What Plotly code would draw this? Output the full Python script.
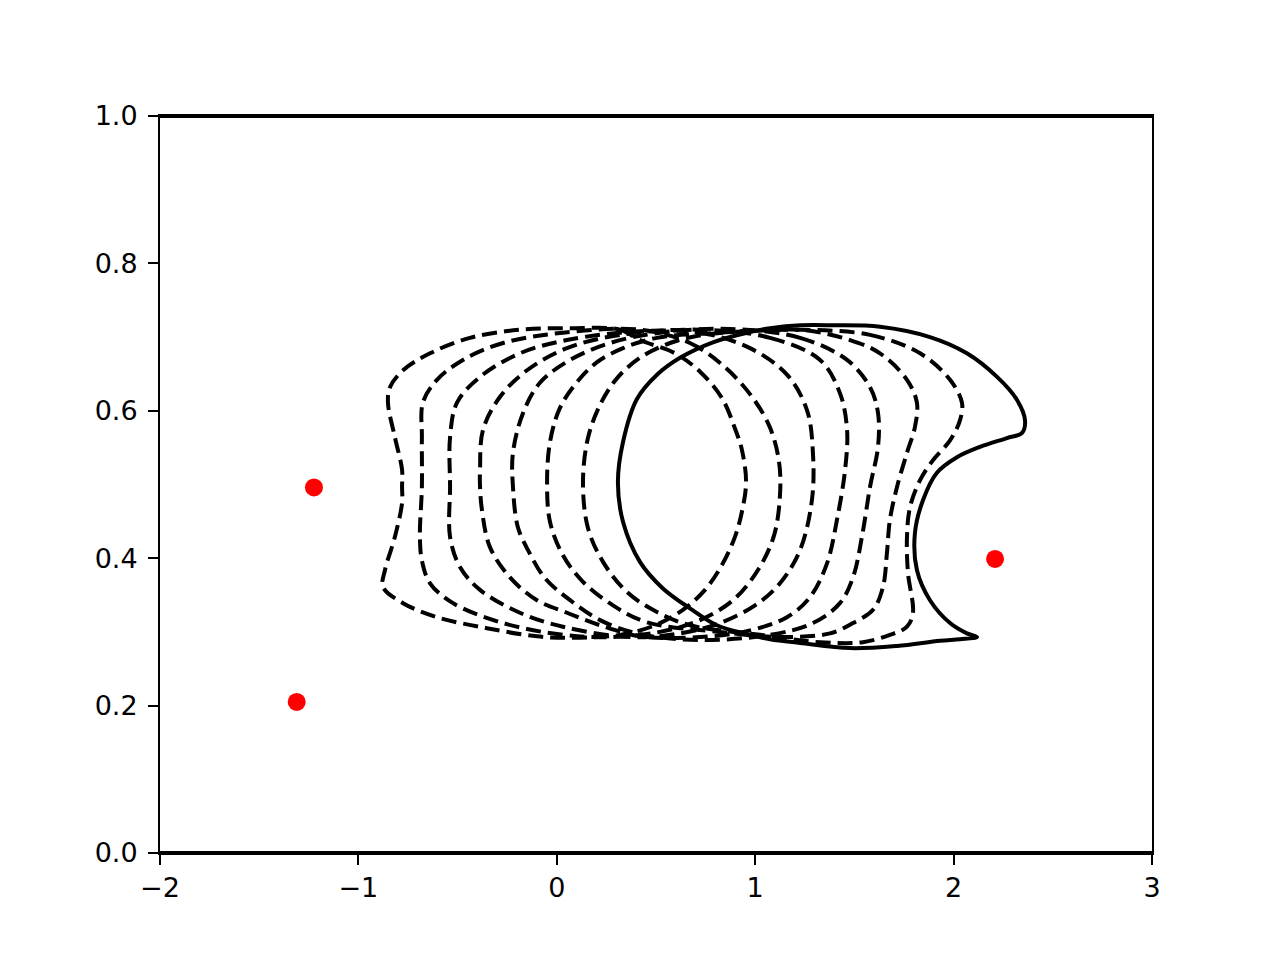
import plotly.graph_objects as go

# point sources (red dots)
src_x = [-1.224, -1.311, 2.209]
src_y = [0.496, 0.205, 0.399]

# channel walls
wall_x = [-2, 3]
wall_bottom = [0, 0]
wall_top = [1, 1]

# dashed contours, earliest to latest
ax = [-0.780, -0.780, -0.816, -0.851, -0.841, -0.775, -0.639, -0.438, -0.186, 0.067, 0.319, 0.419, 0.596, 0.722,
      0.833, 0.898, 0.933, 0.954, 0.933, 0.898, 0.833, 0.747, 0.636, 0.495, 0.319, 0.067, -0.100, -0.352,
      -0.604, -0.775, -0.876, -0.866, -0.816, -0.780, -0.780]
ay = [0.497, 0.520, 0.564, 0.611, 0.632, 0.655, 0.678, 0.699, 0.710, 0.712, 0.710, 0.696, 0.678, 0.653,
      0.617, 0.576, 0.547, 0.503, 0.463, 0.429, 0.391, 0.357, 0.330, 0.309, 0.296, 0.292, 0.294, 0.305,
      0.320, 0.339, 0.361, 0.384, 0.429, 0.475, 0.497]

bx = [-0.680, -0.680, -0.675, -0.604, -0.473, -0.271, 0.031, 0.419, 0.671, 0.848, 0.984, 1.075, 1.120, 1.125,
      1.095, 1.014, 0.888, 0.722, 0.520, 0.268, 0.031, -0.271, -0.523, -0.639, -0.680, -0.690, -0.680]
by = [0.497, 0.564, 0.611, 0.642, 0.669, 0.692, 0.706, 0.710, 0.692, 0.659, 0.619, 0.577, 0.531, 0.486,
      0.431, 0.384, 0.343, 0.316, 0.300, 0.293, 0.296, 0.312, 0.339, 0.366, 0.397, 0.429, 0.497]

cx = [-0.538, -0.538, -0.503, -0.387, -0.186, 0.051, 0.419, 0.722, 0.974, 1.160, 1.261, 1.291, 1.286, 1.226,
      1.125, 0.999, 0.822, 0.621, 0.369, 0.031, -0.186, -0.387, -0.488, -0.538, -0.538]
cy = [0.497, 0.564, 0.611, 0.646, 0.678, 0.696, 0.708, 0.706, 0.685, 0.649, 0.601, 0.543, 0.479, 0.411,
      0.366, 0.336, 0.312, 0.298, 0.293, 0.307, 0.326, 0.357, 0.388, 0.429, 0.497]

dx = [-0.387, -0.387, -0.372, -0.286, -0.150, 0.051, 0.319, 0.722, 1.075, 1.327, 1.427, 1.463, 1.453, 1.412,
      1.362, 1.276, 1.160, 0.974, 0.722, 0.419, 0.218, 0.051, -0.100, -0.236, -0.337, -0.377, -0.387]
dy = [0.497, 0.520, 0.574, 0.619, 0.655, 0.685, 0.703, 0.710, 0.699, 0.669, 0.624, 0.574, 0.520, 0.452,
      0.393, 0.347, 0.320, 0.302, 0.293, 0.294, 0.309, 0.326, 0.343, 0.374, 0.415, 0.465, 0.497]

ex = [-0.221, -0.221, -0.170, -0.085, 0.067, 0.268, 0.520, 0.873, 1.226, 1.463, 1.579, 1.619, 1.619, 1.579,
      1.538, 1.493, 1.427, 1.291, 1.075, 0.722, 0.419, 0.218, 0.067, -0.060, -0.145, -0.196, -0.221]
ey = [0.497, 0.543, 0.597, 0.638, 0.669, 0.692, 0.706, 0.711, 0.699, 0.669, 0.632, 0.597, 0.551, 0.497,
      0.429, 0.374, 0.339, 0.312, 0.296, 0.289, 0.297, 0.316, 0.343, 0.373, 0.411, 0.442, 0.497]

fx = [-0.049, -0.034, 0.016, 0.102, 0.203, 0.334, 0.505, 0.822, 1.226, 1.478, 1.629, 1.765, 1.815, 1.805,
      1.765, 1.715, 1.679, 1.664, 1.644, 1.594, 1.493, 1.377, 1.125, 0.822, 0.455, 0.283, 0.132, 0.031,
      -0.034, -0.049]
fy = [0.503, 0.558, 0.604, 0.639, 0.666, 0.685, 0.699, 0.706, 0.710, 0.696, 0.678, 0.642, 0.611, 0.578,
      0.543, 0.497, 0.452, 0.407, 0.361, 0.330, 0.312, 0.298, 0.293, 0.300, 0.313, 0.336, 0.368, 0.404,
      0.449, 0.503]

gx = [0.132, 0.157, 0.218, 0.303, 0.419, 0.571, 0.737, 0.974, 1.226, 1.579, 1.831, 1.982, 2.042, 2.032,
      1.982, 1.896, 1.831, 1.780, 1.765, 1.770, 1.795, 1.765, 1.679, 1.543, 1.327, 1.024, 0.671, 0.505,
      0.354, 0.233, 0.157, 0.132]
gy = [0.503, 0.563, 0.608, 0.644, 0.672, 0.692, 0.703, 0.708, 0.710, 0.703, 0.678, 0.642, 0.611, 0.587,
      0.560, 0.533, 0.506, 0.469, 0.429, 0.380, 0.326, 0.307, 0.296, 0.286, 0.286, 0.296, 0.309, 0.327,
      0.354, 0.395, 0.441, 0.503]

# solid contour
hx = [0.308, 0.334, 0.404, 0.505, 0.621, 0.787, 0.959, 1.075, 1.230, 1.392, 1.629, 1.881, 2.067, 2.219,
      2.319, 2.360, 2.345, 2.269, 2.133, 2.017, 1.916, 1.846, 1.805, 1.815, 1.881, 1.982, 2.067, 2.118,
      2.032, 1.931, 1.715, 1.478, 1.226, 1.075, 0.959, 0.807, 0.671, 0.535, 0.419, 0.334, 0.308]
hy = [0.503, 0.558, 0.616, 0.649, 0.672, 0.693, 0.706, 0.712, 0.716, 0.716, 0.714, 0.700, 0.678, 0.646,
      0.615, 0.587, 0.570, 0.563, 0.551, 0.537, 0.516, 0.479, 0.434, 0.384, 0.343, 0.312, 0.298, 0.293,
      0.290, 0.288, 0.281, 0.278, 0.285, 0.290, 0.297, 0.309, 0.332, 0.359, 0.395, 0.449, 0.503]


def from_top(xs, ys):
    # start the closed loop at its highest point so the spline seam sits on a flat stretch
    lx, ly = xs[:-1], ys[:-1]
    i = ly.index(max(ly))
    return lx[i:] + lx[:i] + [lx[i]], ly[i:] + ly[:i] + [ly[i]]


dashed = [(ax, ay), (bx, by), (cx, cy), (dx, dy), (ex, ey), (fx, fy), (gx, gy)]

fig = go.Figure()

for xs, ys in dashed:
    px, py = from_top(xs, ys)
    fig.add_trace(go.Scatter(x=px, y=py, mode='lines',
                             line=dict(color='black', width=4, dash='15px,7px', shape='spline', smoothing=1.0)))

px, py = from_top(hx, hy)
fig.add_trace(go.Scatter(x=px, y=py, mode='lines',
                         line=dict(color='black', width=4, shape='spline', smoothing=1.0)))

fig.add_trace(go.Scatter(x=wall_x, y=wall_bottom, mode='lines', line=dict(color='black', width=4)))
fig.add_trace(go.Scatter(x=wall_x, y=wall_top, mode='lines', line=dict(color='black', width=4)))

fig.add_trace(go.Scatter(x=src_x, y=src_y, mode='markers',
                         marker=dict(color='red', size=18, line=dict(width=0))))

axis_style = dict(showgrid=False, zeroline=False, showline=True, mirror=True,
                  linecolor='black', linewidth=2, ticks='outside', ticklen=10,
                  tickwidth=2, tickcolor='black',
                  tickfont=dict(family='DejaVu Sans', size=27, color='black'))

fig.update_xaxes(range=[-2, 3], dtick=1, **axis_style)
fig.update_yaxes(range=[0, 1], dtick=0.2, tickformat='.1f', ticklabelstandoff=5, **axis_style)

# page body adds 8px, so margins are shifted to keep the axes where they belong
fig.update_layout(
    width=1280,
    height=960,
    margin=dict(l=152, r=136, t=108, b=115),
    plot_bgcolor='white',
    paper_bgcolor='white',
    showlegend=False
)

fig.write_html("out.html")
